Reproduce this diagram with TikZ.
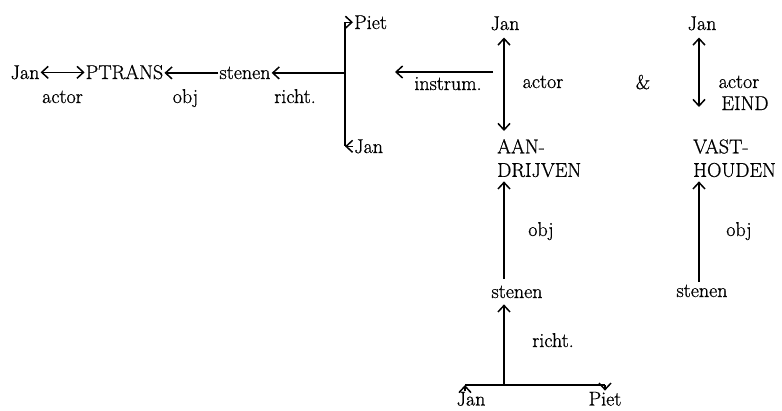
\documentclass[tikz,border=0pt]{standalone}
\usepackage{fontspec}
\setmainfont{Latin Modern Roman}[FakeBold=0.8]
\usetikzlibrary{arrows.meta}
\begin{document}
\begin{tikzpicture}[x=1pt,y=-1pt,
  txt/.style={inner sep=1pt, anchor=base, font=\fontsize{20}{23.5}\selectfont},
  conn/.style={line width=1.5pt, line join=round},
  tip/.style={conn,-{Straight Barb[length=6.5pt,width=12pt]}},
  both/.style={conn,{Straight Barb[length=6.5pt,width=12pt]}-{Straight Barb[length=6.5pt,width=12pt]}}]
\fill[white] (0,0) rectangle (782,410);
\useasboundingbox (0,0) rectangle (782,410);

% left chain
\node[txt] (jan1) at (25,79) {Jan};
\node[txt] (ptrans) at (124.5,79) {PTRANS};
\node[txt] (sten1) at (245,79) {stenen};
\node[txt] (lactor1) at (62.5,103) {actor};
\node[txt] (lobj1) at (185.5,103) {obj};
\node[txt] (lricht1) at (295,103) {richt.};
\node[txt, anchor=base west] (piet1) at (353,29) {Piet};
\node[txt, anchor=base west] (jan2) at (353,153) {Jan};
\coordinate (barx) at (345,0);

\draw[both] (jan1.east) -- (jan1.east -| ptrans.west);
\draw[tip] (sten1.west) -- (sten1.west -| ptrans.east);
\draw[tip] (sten1.east -| barx) -- (sten1.east);
\draw[conn] (piet1.west -| barx) -- (jan2.west -| barx);
\draw[tip] (piet1.west -| barx) -- (piet1.west);
\draw[tip] (jan2.west) -- (jan2.west -| barx);

% instrument
\coordinate (insR) at (493,72);
\coordinate (insL) at (395,72);
\draw[tip] (insR) -- (insL);
\node[txt] (linstr) at (448,90) {instrum.};

% middle column
\coordinate (c2) at (504,0);
\node[txt] (jan3) at (505,30) {Jan};
\node[txt, anchor=north west, align=left] (aan) at (496,138) {AAN-\\DRIJVEN};
\draw[both, shorten <=6pt, shorten >=7pt] (jan3.south -| c2) -- (aan.north -| c2);
\node[txt] (lactor2) at (543,88) {actor};
\node[txt] (amp) at (643,89) {\&};
\node[txt] (sten2) at (517,298) {stenen};
\draw[tip, shorten <=6pt, shorten >=3pt] (sten2.north -| c2) -- (aan.south -| c2);
\node[txt] (lobj2) at (541,236) {obj};
\node[txt] (lricht2) at (553,347) {richt.};
\coordinate (bL) at (465,385);
\coordinate (bR) at (605,385);
\draw[conn] (bL) -- (bR);
\draw[tip, shorten >=5pt] (bL -| c2) -- (sten2.south -| c2);
\node[txt] (jan4) at (471,405.5) {Jan};
\node[txt] (piet2) at (605,405.5) {Piet};
\draw[tip] (jan4.north -| bL) -- (bL);
\draw[tip] (bR) -- (piet2.north -| bR);

% right column
\coordinate (c3) at (699,0);
\coordinate (eindEnd) at (699,107);
\node[txt] (jan5) at (702,30) {Jan};
\draw[both, shorten <=6pt] (jan5.south -| c3) -- (eindEnd);
\node[txt] (lactor3) at (739,88) {actor};
\node[txt] (eind) at (745,110) {EIND};
\node[txt, anchor=north west, align=left] (vast) at (692,138) {VAST-\\HOUDEN};
\node[txt] (sten3) at (702,297) {stenen};
\draw[tip, shorten <=2pt, shorten >=3pt] (sten3.north -| c3) -- (vast.south -| c3);
\node[txt] (lobj3) at (739,236) {obj};
\end{tikzpicture}
\end{document}
